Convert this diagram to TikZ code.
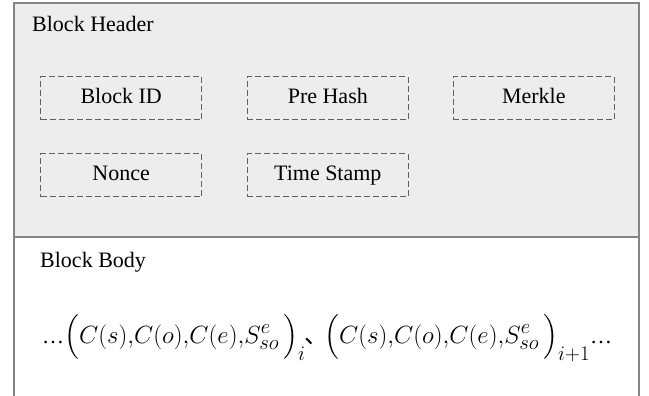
\documentclass[tikz,border=0pt]{standalone}
\usepackage{amsmath}
\usepackage{fontspec}
\setmainfont{Liberation Serif}
\newfontfamily\cjk{Noto Sans CJK SC}
\definecolor{hdrfill}{HTML}{EDEDED}
\definecolor{frame}{HTML}{858585}
\definecolor{dashc}{HTML}{606060}
\newcommand{\tdots}{\text{\fontsize{22}{26}\selectfont …}}
\tikzset{
  fieldbox/.style={draw=dashc, line width=0.9pt, dash pattern=on 6pt off 3pt,
    minimum width=161pt, minimum height=43pt, inner sep=0pt,
    text height=14.5pt, text depth=4.5pt,
    font=\fontsize{22}{26}\selectfont},
  lbl/.style={anchor=base west, inner sep=0pt, font=\fontsize{22}{26}\selectfont},
  formula/.style={anchor=base west, inner sep=0pt, font=\fontsize{28}{34}\selectfont}
}
\begin{document}
\begin{tikzpicture}[x=1pt,y=-1pt]
\useasboundingbox (0,0) rectangle (649,396);
% header
\draw[frame, fill=hdrfill, line width=2pt] (13.5,3.5) rectangle (639,237);
% body sides
\draw[frame, line width=2pt] (13.5,237) -- (13.5,397);
\draw[frame, line width=2pt] (639,237) -- (639,397);
\node[lbl] (hdr) at (32,32) {Block Header};
\node[fieldbox] (id) at (121.2,98.2) {Block ID};
\node[fieldbox] (pre) at (327.8,98.2) {Pre Hash};
\node[fieldbox] (mk) at (533.8,98.2) {Merkle};
\node[fieldbox] (nonce) at (121.2,175.3) {Nonce};
\node[fieldbox] (ts) at (327.8,175.3) {Time Stamp};
\node[lbl] (body) at (40,267) {Block Body};
\node[formula] (f1) at (42,343) {$\tdots\Bigl(C(s){,}C(o){,}C(e){,}S^{e}_{so}\,\Bigr)_{i}$};
\node[anchor=base west, inner sep=0pt, font=\fontsize{24}{28}\cjk] (sep) at (304,343) {、};
\node[formula] (f2) at (324,343) {$\Bigl(C(s){,}C(o){,}C(e){,}S^{e}_{so}\,\Bigr)_{i+1}\tdots$};
\end{tikzpicture}
\end{document}
